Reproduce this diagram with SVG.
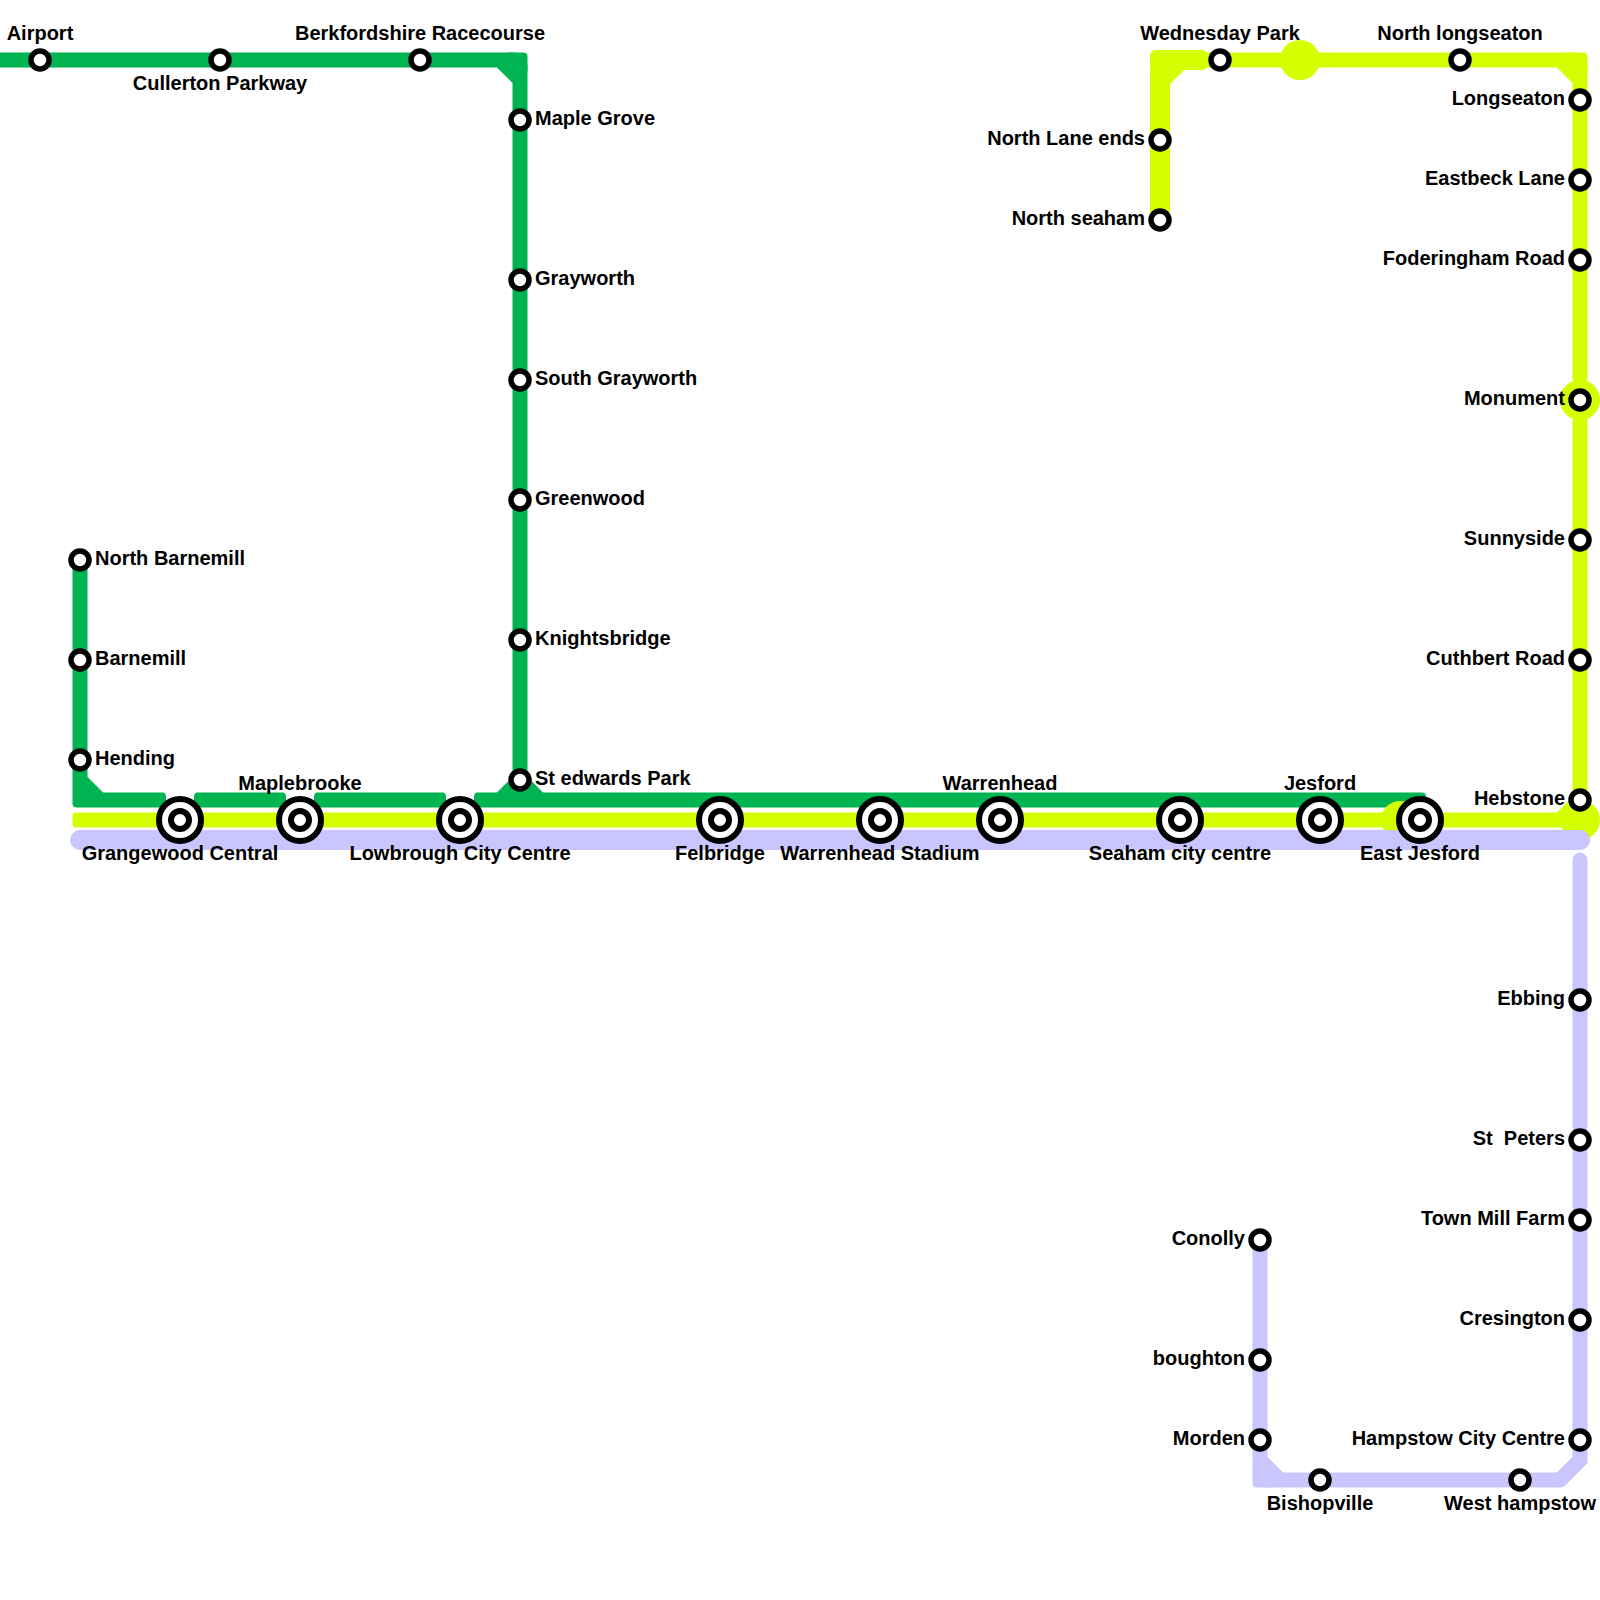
<svg xmlns="http://www.w3.org/2000/svg" width="1600" height="1600" viewBox="0 0 1600 1600">
<style>
text{font-family:"Liberation Sans",Arial,sans-serif;font-weight:700;font-size:20px;fill:#000}
.e{text-anchor:end}.m{text-anchor:middle}
.g,.y,.l,.t{fill:none}
.g{stroke:#00b451;stroke-width:15}
.y{stroke:#d4ff00;stroke-width:15}
.t{stroke:#d4ff00;stroke-width:20}
.l{stroke:#c8c5ff;stroke-width:15}
.gf{fill:#00b451}.yf{fill:#d4ff00}.lf{fill:#c8c5ff}
.s{fill:#fff;stroke:#000;stroke-width:5.5}
.i{fill:#fff;stroke:#000;stroke-width:6}
</style>
<rect width="1600" height="1600" fill="#fff"/>
<g id="connectors">
<path class="g" d="M0 60H515M520 65V796M500 60L520 80"/>
<rect class="gf" x="505" y="52.500" width="22.500" height="22.500" rx="4"/>
<path class="g" d="M80 560V795M80 780L100 800"/>
<rect class="gf" x="72.500" y="792.500" width="93.500" height="15" rx="4"/>
<rect class="gf" x="194" y="792.500" width="92" height="15" rx="4"/>
<rect class="gf" x="314" y="792.500" width="132" height="15" rx="4"/>
<rect class="gf" x="474" y="792.500" width="952" height="15" rx="4"/>
<path class="g" d="M500 800L520 780L540 800"/>
<rect class="yf" x="72.500" y="812.500" width="1507.500" height="15" rx="4"/>
<circle class="yf" cx="1400" cy="820" r="19"/>
<circle class="yf" cx="1580" cy="820" r="20"/>
<circle class="yf" cx="1580" cy="400" r="20"/>
<circle class="yf" cx="1300" cy="60" r="20"/>
<path class="t" d="M1160 220V66"/>
<rect class="yf" x="1150" y="50" width="58" height="20" rx="6"/>
<path class="t" d="M1160 80L1180 60"/>
<path class="y" d="M1200 60H1575M1580 65V820M1560 60L1580 80M1560 820L1580 800"/>
<rect class="yf" x="1565" y="52.500" width="22.500" height="22.500" rx="4"/>
<path fill="none" stroke="#c8c5ff" stroke-width="20" stroke-linecap="round" d="M80 840H1580"/>
<path class="l" stroke-linecap="round" d="M1580 860V1460L1560 1480"/>
<path class="l" d="M1560 1480H1265M1260 1475V1240M1260 1460L1280 1480"/>
<rect class="lf" x="1252.500" y="1465" width="22.500" height="22.500" rx="4"/>
</g>
<g id="n-airport"><circle class="s" cx="40" cy="60" r="9"/><text class="m" x="40" y="40">Airport</text></g>
<g id="n-cullerton"><circle class="s" cx="220" cy="60" r="9"/><text class="m" x="220" y="90">Cullerton Parkway</text></g>
<g id="n-berkfordshire"><circle class="s" cx="420" cy="60" r="9"/><text class="m" x="420" y="40">Berkfordshire Racecourse</text></g>
<g id="n-maple"><circle class="s" cx="520" cy="120" r="9"/><text x="535" y="125">Maple Grove</text></g>
<g id="n-grayworth"><circle class="s" cx="520" cy="280" r="9"/><text x="535" y="285">Grayworth</text></g>
<g id="n-south-grayworth"><circle class="s" cx="520" cy="380" r="9"/><text x="535" y="385">South Grayworth</text></g>
<g id="n-greenwood"><circle class="s" cx="520" cy="500" r="9"/><text x="535" y="505">Greenwood</text></g>
<g id="n-knightsbridge"><circle class="s" cx="520" cy="640" r="9"/><text x="535" y="645">Knightsbridge</text></g>
<g id="n-st-edwards"><circle class="s" cx="520" cy="780" r="9"/><text x="535" y="785">St edwards Park</text></g>
<g id="n-north-barnemill"><circle class="s" cx="80" cy="560" r="9"/><text x="95" y="565">North Barnemill</text></g>
<g id="n-barnemill"><circle class="s" cx="80" cy="660" r="9"/><text x="95" y="665">Barnemill</text></g>
<g id="n-hending"><circle class="s" cx="80" cy="760" r="9"/><text x="95" y="765">Hending</text></g>
<g id="n-grangewood"><circle class="i" cx="180" cy="820" r="21"/><circle class="i" cx="180" cy="820" r="9"/><text class="m" x="180" y="860">Grangewood Central</text></g>
<g id="n-maplebrooke"><circle class="i" cx="300" cy="820" r="21"/><circle class="i" cx="300" cy="820" r="9"/><text class="m" x="300" y="790">Maplebrooke</text></g>
<g id="n-lowbrough"><circle class="i" cx="460" cy="820" r="21"/><circle class="i" cx="460" cy="820" r="9"/><text class="m" x="460" y="860">Lowbrough City Centre</text></g>
<g id="n-felbridge"><circle class="i" cx="720" cy="820" r="21"/><circle class="i" cx="720" cy="820" r="9"/><text class="m" x="720" y="860">Felbridge</text></g>
<g id="n-warrenhead-stadium"><circle class="i" cx="880" cy="820" r="21"/><circle class="i" cx="880" cy="820" r="9"/><text class="m" x="880" y="860">Warrenhead Stadium</text></g>
<g id="n-warrenhead"><circle class="i" cx="1000" cy="820" r="21"/><circle class="i" cx="1000" cy="820" r="9"/><text class="m" x="1000" y="790">Warrenhead</text></g>
<g id="n-seaham"><circle class="i" cx="1180" cy="820" r="21"/><circle class="i" cx="1180" cy="820" r="9"/><text class="m" x="1180" y="860">Seaham city centre</text></g>
<g id="n-jesford"><circle class="i" cx="1320" cy="820" r="21"/><circle class="i" cx="1320" cy="820" r="9"/><text class="m" x="1320" y="790">Jesford</text></g>
<g id="n-east-jesford"><circle class="i" cx="1420" cy="820" r="21"/><circle class="i" cx="1420" cy="820" r="9"/><text class="m" x="1420" y="860">East Jesford</text></g>
<g id="n-north-lane"><circle class="s" cx="1160" cy="140" r="9"/><text class="e" x="1145" y="145">North Lane ends</text></g>
<g id="n-north-seaham"><circle class="s" cx="1160" cy="220" r="9"/><text class="e" x="1145" y="225">North seaham</text></g>
<g id="n-wednesday"><circle class="s" cx="1220" cy="60" r="9"/><text class="m" x="1220" y="40">Wednesday Park</text></g>
<g id="n-north-longseaton"><circle class="s" cx="1460" cy="60" r="9"/><text class="m" x="1460" y="40">North longseaton</text></g>
<g id="n-longseaton"><circle class="s" cx="1580" cy="100" r="9"/><text class="e" x="1565" y="105">Longseaton</text></g>
<g id="n-eastbeck"><circle class="s" cx="1580" cy="180" r="9"/><text class="e" x="1565" y="185">Eastbeck Lane</text></g>
<g id="n-foderingham"><circle class="s" cx="1580" cy="260" r="9"/><text class="e" x="1565" y="265">Foderingham Road</text></g>
<g id="n-monument"><circle class="s" cx="1580" cy="400" r="9"/><text class="e" x="1565" y="405">Monument</text></g>
<g id="n-sunnyside"><circle class="s" cx="1580" cy="540" r="9"/><text class="e" x="1565" y="545">Sunnyside</text></g>
<g id="n-cuthbert"><circle class="s" cx="1580" cy="660" r="9"/><text class="e" x="1565" y="665">Cuthbert Road</text></g>
<g id="n-hebstone"><circle class="s" cx="1580" cy="800" r="9"/><text class="e" x="1565" y="805">Hebstone</text></g>
<g id="n-ebbing"><circle class="s" cx="1580" cy="1000" r="9"/><text class="e" x="1565" y="1005">Ebbing</text></g>
<g id="n-st-peters"><circle class="s" cx="1580" cy="1140" r="9"/><text class="e" x="1565" y="1145" xml:space="preserve">St  Peters</text></g>
<g id="n-town-mill"><circle class="s" cx="1580" cy="1220" r="9"/><text class="e" x="1565" y="1225">Town Mill Farm</text></g>
<g id="n-cresington"><circle class="s" cx="1580" cy="1320" r="9"/><text class="e" x="1565" y="1325">Cresington</text></g>
<g id="n-hampstow"><circle class="s" cx="1580" cy="1440" r="9"/><text class="e" x="1565" y="1445">Hampstow City Centre</text></g>
<g id="n-conolly"><circle class="s" cx="1260" cy="1240" r="9"/><text class="e" x="1245" y="1245">Conolly</text></g>
<g id="n-boughton"><circle class="s" cx="1260" cy="1360" r="9"/><text class="e" x="1245" y="1365">boughton</text></g>
<g id="n-morden"><circle class="s" cx="1260" cy="1440" r="9"/><text class="e" x="1245" y="1445">Morden</text></g>
<g id="n-bishopville"><circle class="s" cx="1320" cy="1480" r="9"/><text class="m" x="1320" y="1510">Bishopville</text></g>
<g id="n-west-hampstow"><circle class="s" cx="1520" cy="1480" r="9"/><text class="m" x="1520" y="1510">West hampstow</text></g>
</svg>
